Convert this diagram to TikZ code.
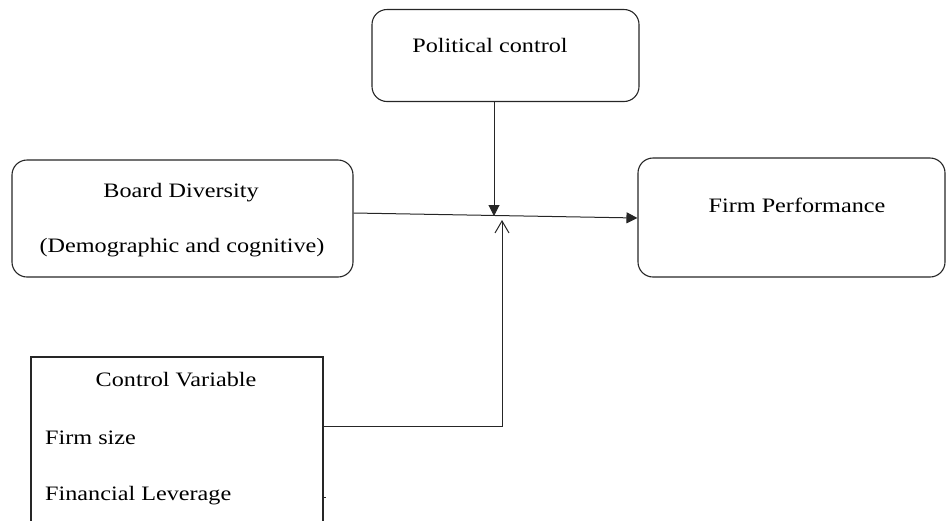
\documentclass[tikz,border=0pt]{standalone}
\usepackage{fontspec}
\setmainfont[FakeStretch=1.18]{Liberation Serif}
\usetikzlibrary{arrows.meta}
\begin{document}
\begin{tikzpicture}[x=1pt,y=-1pt,
  rbox/.style={draw=black!85, line width=1.1pt, rounded corners=15pt, inner sep=0pt},
  sbox/.style={draw=black!85, line width=1.1pt, inner sep=0pt},
  txt/.style={font=\fontsize{20.5}{24}\selectfont, inner sep=0pt},
  conn/.style={draw=black!85, line width=1pt},
  solidtip/.style={-{Triangle[length=11pt,width=11pt]}},
  opentip/.style={-{Straight Barb[length=12pt,width=14pt,line width=1pt]}}]
\useasboundingbox (0,0) rectangle (946,520);
\clip (0,0) rectangle (946,520);
% boxes
\node[rbox, minimum width=267pt, minimum height=92pt] (pc) at (505.5,55.5) {};
\node[txt] (pct) at (490,45) {Political control};
\node[rbox, minimum width=341pt, minimum height=117pt] (bd) at (182.5,218.5) {};
\node[txt] (bdt1) at (181,193) {Board Diversity};
\node[txt] (bdt2) at (182,248) {(Demographic and cognitive)};
\node[rbox, minimum width=307pt, minimum height=119pt] (fp) at (791.5,217.5) {};
\node[txt] (fpt) at (797,205) {Firm Performance};
\node[sbox, minimum width=292pt, minimum height=200pt] (cv) at (177,457) {};
\node[txt] (cvt) at (176,380) {Control Variable};
\node[txt, anchor=west] (cv1) at (45,438) {Firm size};
\node[txt, anchor=west] (cv2) at (45,496) {Financial Leverage};
% junction coordinates
\coordinate (bdout) at (bd.east |- 0,213);
\coordinate (fpin) at (fp.west |- 0,218);
\coordinate (pcout) at (494,101);
\coordinate (dtip) at (494,216);
\coordinate (cvout) at (323,426);
\coordinate (bend) at (502,426);
\coordinate (utip) at (502,220);
\coordinate (tick) at (323,497);
% connectors
\draw[conn, solidtip] (bdout) -- (fpin);
\draw[conn, solidtip] (pcout) -- (dtip);
\draw[conn, opentip] (cvout) -- (bend) -- (utip);
\draw[conn] (tick) -- ++(3,0);
\end{tikzpicture}
\end{document}
